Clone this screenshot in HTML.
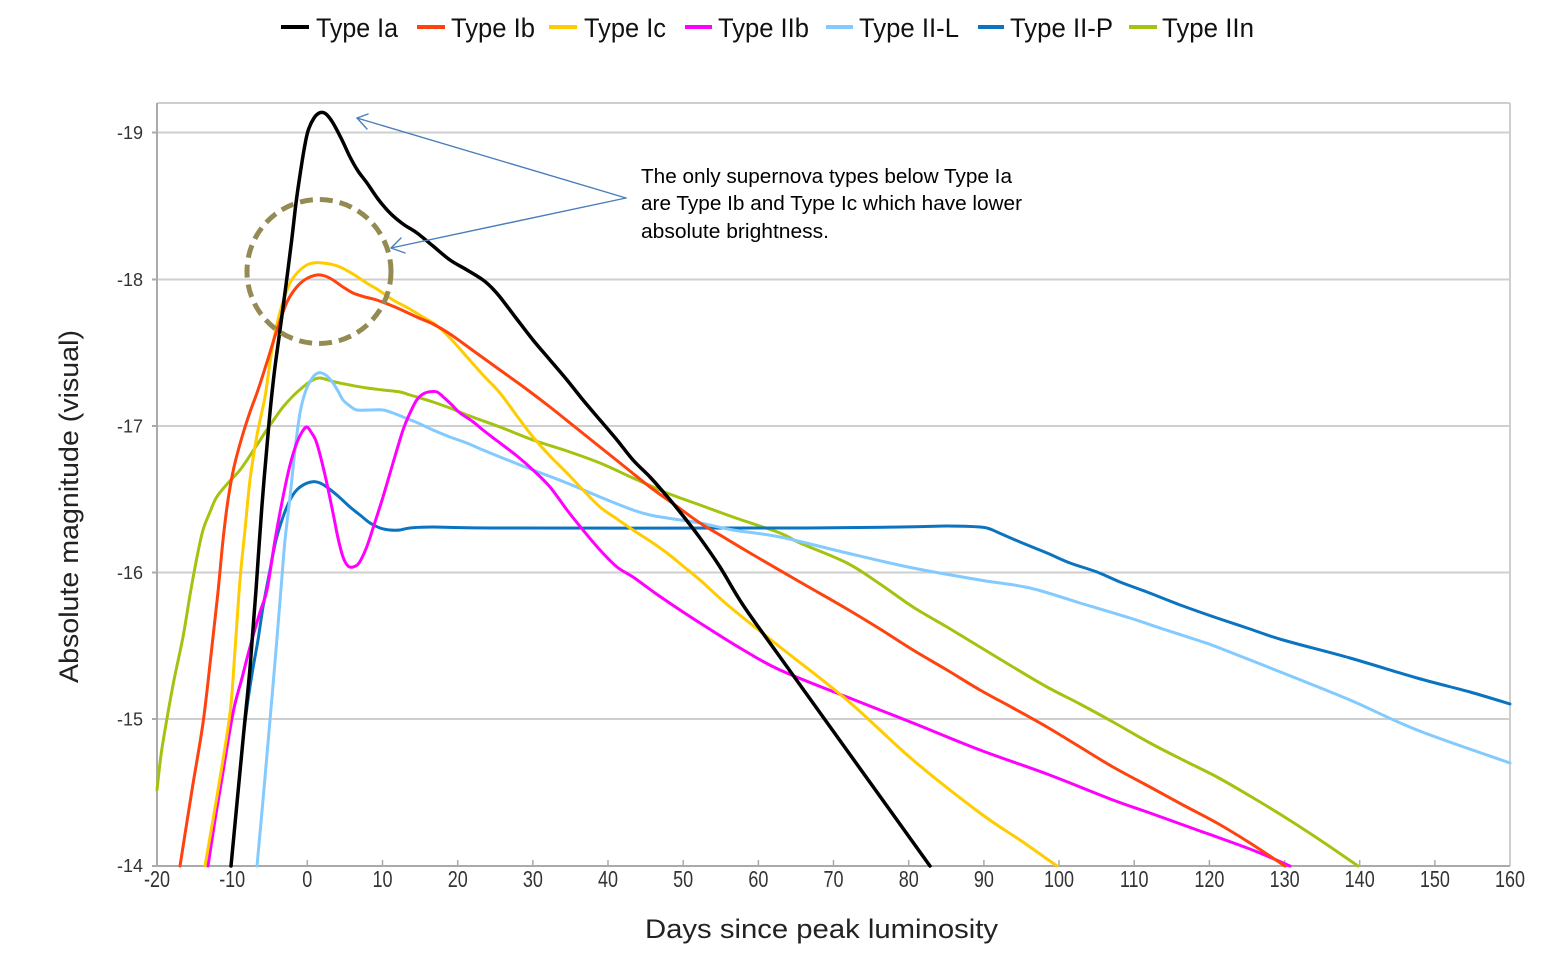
<!DOCTYPE html>
<html>
<head>
<meta charset="utf-8">
<style>
  html,body{margin:0;padding:0;background:#fff;}
  body{width:1542px;height:958px;overflow:hidden;position:relative;}
  svg{position:absolute;left:0;top:0;}
  text{font-family:"Liberation Sans", Arial, sans-serif;}
</style>
</head>
<body>
<svg id="chart" width="1542" height="958" viewBox="0 0 1542 958" xmlns="http://www.w3.org/2000/svg">
  <rect x="0" y="0" width="1542" height="958" fill="#ffffff"/>

  <!-- Legend -->
  <g stroke-width="4" stroke-linecap="butt">
    <line x1="281" y1="27" x2="309" y2="27" stroke="#000000"/>
    <line x1="417" y1="27" x2="445" y2="27" stroke="#ff420e"/>
    <line x1="549" y1="27" x2="577" y2="27" stroke="#ffcc00"/>
    <line x1="685" y1="27" x2="712" y2="27" stroke="#ff00ff"/>
    <line x1="826" y1="27" x2="853" y2="27" stroke="#83caff"/>
    <line x1="978" y1="27" x2="1004" y2="27" stroke="#0a74c0"/>
    <line x1="1129" y1="27" x2="1157" y2="27" stroke="#a2c410"/>
  </g>
  <g font-size="27" fill="#111">
    <text x="316" y="37" textLength="82" lengthAdjust="spacingAndGlyphs">Type Ia</text>
    <text x="451" y="37" textLength="84" lengthAdjust="spacingAndGlyphs">Type Ib</text>
    <text x="584" y="37" textLength="82" lengthAdjust="spacingAndGlyphs">Type Ic</text>
    <text x="718" y="37" textLength="91" lengthAdjust="spacingAndGlyphs">Type IIb</text>
    <text x="859" y="37" textLength="100" lengthAdjust="spacingAndGlyphs">Type II-L</text>
    <text x="1010" y="37" textLength="103" lengthAdjust="spacingAndGlyphs">Type II-P</text>
    <text x="1162" y="37" textLength="92" lengthAdjust="spacingAndGlyphs">Type IIn</text>
  </g>

  <!-- Grid -->
  <g stroke="#cfcfcf" stroke-width="2">
    <line x1="157" y1="103" x2="1510" y2="103"/>
    <line x1="1510" y1="103" x2="1510" y2="866"/>
    <line x1="157" y1="132.5" x2="1510" y2="132.5"/>
    <line x1="157" y1="279.5" x2="1510" y2="279.5"/>
    <line x1="157" y1="426" x2="1510" y2="426"/>
    <line x1="157" y1="572.5" x2="1510" y2="572.5"/>
    <line x1="157" y1="719" x2="1510" y2="719"/>
  </g>
  <!-- Axes -->
  <g stroke="#aaaaaa" stroke-width="2">
    <line x1="157" y1="103" x2="157" y2="866"/>
    <line x1="157" y1="866" x2="1510" y2="866"/>
    <line x1="152" y1="132.5" x2="157" y2="132.5"/>
    <line x1="152" y1="279.5" x2="157" y2="279.5"/>
    <line x1="152" y1="426" x2="157" y2="426"/>
    <line x1="152" y1="572.5" x2="157" y2="572.5"/>
    <line x1="152" y1="719" x2="157" y2="719"/>
    <line x1="152" y1="866" x2="157" y2="866"/>
  </g>
  <g stroke="#aaaaaa" stroke-width="1.5">
    <line x1="232.2" y1="860" x2="232.2" y2="866"/>
    <line x1="307.3" y1="860" x2="307.3" y2="866"/>
    <line x1="382.5" y1="860" x2="382.5" y2="866"/>
    <line x1="457.7" y1="860" x2="457.7" y2="866"/>
    <line x1="532.9" y1="860" x2="532.9" y2="866"/>
    <line x1="608" y1="860" x2="608" y2="866"/>
    <line x1="683.2" y1="860" x2="683.2" y2="866"/>
    <line x1="758.4" y1="860" x2="758.4" y2="866"/>
    <line x1="833.5" y1="860" x2="833.5" y2="866"/>
    <line x1="908.7" y1="860" x2="908.7" y2="866"/>
    <line x1="983.9" y1="860" x2="983.9" y2="866"/>
    <line x1="1059" y1="860" x2="1059" y2="866"/>
    <line x1="1134.2" y1="860" x2="1134.2" y2="866"/>
    <line x1="1209.4" y1="860" x2="1209.4" y2="866"/>
    <line x1="1284.6" y1="860" x2="1284.6" y2="866"/>
    <line x1="1359.7" y1="860" x2="1359.7" y2="866"/>
    <line x1="1434.9" y1="860" x2="1434.9" y2="866"/>
  </g>

  <!-- Y tick labels -->
  <g font-size="18" fill="#333" text-anchor="end">
    <text x="143" y="139">-19</text>
    <text x="143" y="286">-18</text>
    <text x="143" y="432.5">-17</text>
    <text x="143" y="579">-16</text>
    <text x="143" y="725.5">-15</text>
    <text x="143" y="872">-14</text>
  </g>
  <!-- X tick labels (vertically stretched) -->
  <g font-size="18" fill="#333" text-anchor="middle" transform="translate(0,887) scale(1,1.3)">
    <text x="157" y="0">-20</text>
    <text x="232.2" y="0">-10</text>
    <text x="307.3" y="0">0</text>
    <text x="382.5" y="0">10</text>
    <text x="457.7" y="0">20</text>
    <text x="532.9" y="0">30</text>
    <text x="608" y="0">40</text>
    <text x="683.2" y="0">50</text>
    <text x="758.4" y="0">60</text>
    <text x="833.5" y="0">70</text>
    <text x="908.7" y="0">80</text>
    <text x="983.9" y="0">90</text>
    <text x="1059" y="0">100</text>
    <text x="1134.2" y="0">110</text>
    <text x="1209.4" y="0">120</text>
    <text x="1284.6" y="0">130</text>
    <text x="1359.7" y="0">140</text>
    <text x="1434.9" y="0">150</text>
    <text x="1510" y="0">160</text>
  </g>

  <!-- Axis titles -->
  <text x="645" y="938" font-size="27" fill="#222" textLength="353" lengthAdjust="spacingAndGlyphs">Days since peak luminosity</text>
  <text transform="translate(78,683) rotate(-90)" x="0" y="0" font-size="27" fill="#222" textLength="353" lengthAdjust="spacingAndGlyphs">Absolute magnitude (visual)</text>

  <!-- Series -->
  <g id="series" fill="none" stroke-linejoin="round" stroke-linecap="round">
    <!-- Type IIn -->
    <polyline class="s" stroke="#a2c410" stroke-width="3" points="157,790 161,755 166.7,720 174,680 183,637 190,595 197,557 203,530 210,512 216.7,497 228,483 240,470 253,451 266.7,430 275,418 283,407 293,396 303,387 311,381 320,378 335,382 350,385 367,388 383,390 400,392 410,395 433,402 450,408 467,415 500,427 533,440 567,451 600,463 633,478 667,493 700,505 733,517 780,533 800,543 847,563 880,584 913,607 947,627 980,647 1013,667 1047,687 1080,704 1113,722 1150,743 1183,760 1217,777 1250,796 1283,816 1320,840 1358,866"/>
    <!-- Type II-P -->
    <polyline class="s" stroke="#0a74c0" stroke-width="3" points="244,730 248,700 253,668 258,640 263,607 270,570 276,540 283,517 290,500 296.7,490 305,484 313,481.7 320,483 326.7,487 338,496 350,507 360,515 370,523 380,528 390,530 400,530 410,528 433,527 500,528 780,528 900,527 947,526 980,527 990,529 997,532 1020,542 1047,553 1070,563 1097,572 1120,582 1147,592 1183,606 1217,618 1250,629 1283,640 1350,658 1417,678 1470,692 1510,704"/>
    <!-- Type II-L -->
    <polyline class="s" stroke="#83caff" stroke-width="3" points="257,866 263,800 270,720 276,650 281.7,580 285,540 290,497 295,450 300,413 306,390 313,377 318,373 321.7,373 327,376 333,383 338,391 343,400 350,406 356.7,410 370,410 383,410 393,413 403,417 418,423 433,430 450,437 466.7,443 483,450 500,457 533,470 567,483 600,497 633,510 650,515 667,518 700,523 733,530 780,537 847,553 913,568 980,580 1030,588 1080,603 1130,618 1160,628 1200,641 1217,647 1283,673 1350,700 1417,730 1510,763"/>
    <!-- Type IIb -->
    <polyline class="s" stroke="#ff00ff" stroke-width="3" points="208,866 215,820 221.7,780 233,713 242,678 250,647 260,612 267,590 275,540 283,497 290,465 296.7,443 302,432 306.7,427 311,432 316.7,443 325,475 333,513 338,538 343,557 348,566 353,567 359,563 366.7,547 375,522 383,497 393,463 403,430 410,413 416.7,400 423,394 430,391.7 437,392 443,396.7 452,405 460,413 472,421 483,430 492,437 500,443 517,456 533,470 550,487 567,510 583,530 600,550 617,567 633,577 655,593 677,608 700,623 740,648 780,670 847,697 913,723 980,750 1047,774 1113,800 1150,813 1200,831 1217,837 1255,851 1290,866"/>
    <!-- Type Ic -->
    <polyline class="s" stroke="#ffcc00" stroke-width="3" points="205,866 218,790 230,713 235,650 240,580 245,530 250,480 257,435 265,397 270,362 275,333 282,305 290,283 298,272 306.7,265 313,263 320,262.7 330,264 340,267 353,274 366.7,283 380,291 393,300 408,308 423,317 436,325 450,338 467,357 483,375 500,393 517,416 533,437 550,456 567,473 583,490 600,507 617,519 633,530 650,541 667,553 683,566 700,580 730,607 780,647 847,700 913,760 980,813 1020,840 1057,866"/>
    <!-- Type Ib -->
    <polyline class="s" stroke="#ff420e" stroke-width="3" points="180,866 192,790 203,723 211,655 218,592 223,540 228,500 234,467 242,437 250,412 258,390 267,362 277,330 287,302 296.7,287 306,279 316.7,275 325,276 333,280 343,287 353,293 365,297 376.7,300 395,307 416.7,317 433,324 450,334 475,352 500,370 525,388 550,407 575,427 600,447 625,467 650,487 675,505 700,523 725,538 750,553 800,582 847,609 880,629 913,650 947,670 980,690 1013,708 1047,727 1080,747 1113,767 1150,787 1183,805 1217,823 1250,843 1285,866"/>
    <!-- Type Ia -->
    <polyline class="s" stroke="#000000" stroke-width="3.5" points="231,866 243,740 250,668 256,590 262,505 269,423 274,375 280,330 286,285 291.7,240 296,203 300,175 304,150 308,131 314,118 320,112.7 326,114 333,123 342,140 350,157 358,171 367,183 378,199 390,213 403,224 417,233 433,246 450,260 467,270 483,280 492,288 500,297 516,318 533,340 550,360 567,380 583,400 600,420 617,440 633,460 650,477 665,494 680,512 700,538 720,567 743,605 780,657 930,866"/>
  </g>

  <!-- Dashed highlight circle -->
  <circle cx="319" cy="271.5" r="72" fill="none" stroke="#948a54" stroke-width="5" stroke-dasharray="13 7"/>

  <!-- Annotation arrows -->
  <g stroke="#4a7ebb" stroke-width="1.4" fill="none" stroke-linecap="round" stroke-linejoin="round">
    <line x1="626" y1="198" x2="357" y2="118"/>
    <polyline points="368,114 357,118 367,129"/>
    <line x1="626" y1="198" x2="391" y2="248"/>
    <polyline points="401,238 391,248 405,253"/>
  </g>

  <!-- Annotation text -->
  <g font-size="20" fill="#000">
    <text x="641" y="183" textLength="371" lengthAdjust="spacingAndGlyphs">The only supernova types below Type Ia</text>
    <text x="641" y="210" textLength="381" lengthAdjust="spacingAndGlyphs">are Type Ib and Type Ic which have lower</text>
    <text x="641" y="238" textLength="188" lengthAdjust="spacingAndGlyphs">absolute brightness.</text>
  </g>
</svg>
<script>
(function(){
  var NS="http://www.w3.org/2000/svg";
  var pls=document.querySelectorAll("polyline.s");
  for(var k=0;k<pls.length;k++){
    var pl=pls[k];
    var pts=pl.getAttribute("points").trim().split(/\s+/).map(function(s){return s.split(",").map(Number);});
    var f=function(n){return Math.round(n*100)/100;};
    var d="M"+f(pts[0][0])+","+f(pts[0][1]);
    for(var i=0;i<pts.length-1;i++){
      var p0=pts[i-1]||pts[i],p1=pts[i],p2=pts[i+1],p3=pts[i+2]||pts[i+1];
      var c1x=p1[0]+(p2[0]-p0[0])/6,c1y=p1[1]+(p2[1]-p0[1])/6;
      var c2x=p2[0]-(p3[0]-p1[0])/6,c2y=p2[1]-(p3[1]-p1[1])/6;
      d+=" C"+f(c1x)+","+f(c1y)+" "+f(c2x)+","+f(c2y)+" "+f(p2[0])+","+f(p2[1]);
    }
    var p=document.createElementNS(NS,"path");
    p.setAttribute("d",d);
    p.setAttribute("stroke",pl.getAttribute("stroke"));
    p.setAttribute("stroke-width",pl.getAttribute("stroke-width"));
    p.setAttribute("fill","none");
    pl.parentNode.replaceChild(p,pl);
  }
})();
</script>
</body>
</html>
